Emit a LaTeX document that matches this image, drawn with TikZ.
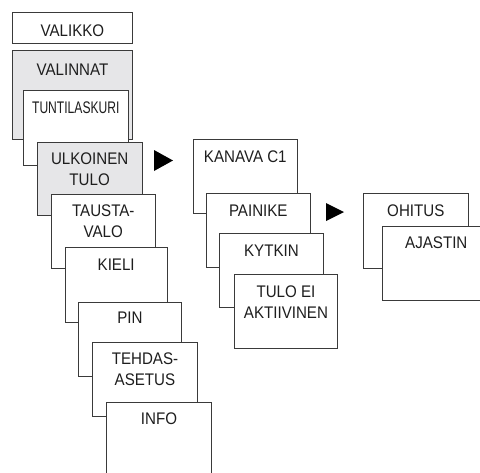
\documentclass[tikz,border=0pt]{standalone}
\usepackage{fontspec}
\setmainfont[FakeStretch=0.9]{Liberation Sans}
\definecolor{lineC}{HTML}{3A3A3A}
\definecolor{grayF}{HTML}{E6E6E8}
\definecolor{txtC}{HTML}{1E1E1E}
\newcommand{\menuBox}[6]{%
  \node[#1,anchor=north west,minimum width={#4-#2},minimum height={#5-#3}] (#6) at (#2,#3) {};}
\begin{document}
\begin{tikzpicture}[x=1pt,y=-1pt,
  menubox/.style={draw=lineC,line width=0.9pt,fill=white,inner sep=0pt},
  graybox/.style={menubox,fill=grayF},
  lbl/.style={anchor=base,inner sep=0pt,align=center,text=txtC,
    font=\fontsize{16.8}{21.5}\selectfont}]
\useasboundingbox (0,0) rectangle (480,472);
\clip (0,0) rectangle (480,472);
\fill[white] (0,0) rectangle (480,472);
% left column
\menuBox{menubox}{12}{12}{132}{43}{valikko}
\node[lbl] (tvalikko) at ([yshift=-24.5pt]valikko.north) {VALIKKO};
\menuBox{graybox}{12}{50}{132}{139}{valinnat}
\node[lbl] (tvalinnat) at ([yshift=-25.5pt]valinnat.north) {VALINNAT};
\menuBox{menubox}{22.7}{90}{128}{165}{tunti}
\node[lbl] (ttunti) at ([yshift=-23pt]tunti.north) {\scalebox{0.8}[1]{TUNTILASKURI}};
\menuBox{graybox}{36.7}{141.5}{141.7}{215}{ulkoinen}
\node[lbl,anchor=north] (tulkoinen) at ([yshift=-11pt]ulkoinen.north) {ULKOINEN\\TULO};
\menuBox{menubox}{50.7}{194}{155}{268}{tausta}
\node[lbl,anchor=north] (ttausta) at ([yshift=-10.5pt]tausta.north) {TAUSTA-\\VALO};
\menuBox{menubox}{64.5}{247}{167}{322}{kieli}
\node[lbl] (tkieli) at ([yshift=-23pt]kieli.north) {KIELI};
\menuBox{menubox}{78}{302}{181}{376}{pin}
\node[lbl] (tpin) at ([yshift=-21.5pt]pin.north) {PIN};
\menuBox{menubox}{92}{342}{197}{416}{tehdas}
\node[lbl,anchor=north] (ttehdas) at ([yshift=-10.5pt]tehdas.north) {TEHDAS-\\ASETUS};
\menuBox{menubox}{106}{402}{211}{490}{info}
\node[lbl] (tinfo) at ([yshift=-22pt]info.north) {INFO};
% middle column
\menuBox{menubox}{192.7}{139}{297}{213}{kanava}
\node[lbl] (tkanava) at ([yshift=-23pt]kanava.north) {KANAVA C1};
\menuBox{menubox}{205.7}{193}{310}{267}{painike}
\node[lbl] (tpainike) at ([yshift=-23.5pt]painike.north) {PAINIKE};
\menuBox{menubox}{219}{233}{323}{307}{kytkin}
\node[lbl] (tkytkin) at ([yshift=-23pt]kytkin.north) {KYTKIN};
\menuBox{menubox}{234}{274}{337}{348}{tuloei}
\node[lbl,anchor=north] (ttuloei) at ([yshift=-11.5pt]tuloei.north) {TULO EI\\AKTIIVINEN};
% right column
\menuBox{menubox}{362.7}{193}{468}{268}{ohitus}
\node[lbl] (tohitus) at ([yshift=-23pt]ohitus.north) {OHITUS};
\menuBox{menubox}{381.7}{225.7}{490}{300}{ajastin}
\node[lbl] (tajastin) at ([yshift=-23pt]ajastin.north) {AJASTIN};
% arrows
\fill[black] (154,150) -- (173,160.5) -- (154,171) -- cycle;
\fill[black] (326,203) -- (344,212) -- (326,221) -- cycle;
\end{tikzpicture}
\end{document}
